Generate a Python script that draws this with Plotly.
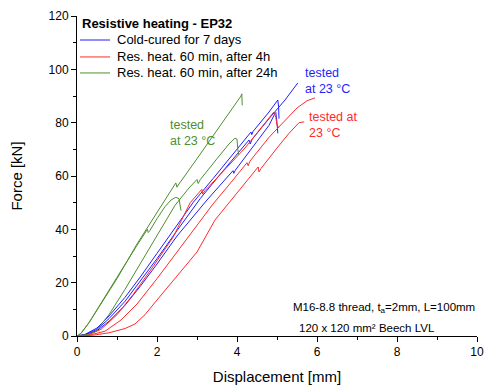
import plotly.graph_objects as go

# ---------------- data ----------------
# Cold-cured for 7 days (three tests)
blue_1_d = [0, 0.2, 0.5, 0.8, 1.2, 1.6, 2.0, 2.5, 3.08, 3.6, 4.3, 4.33, 4.38, 4.8, 5.2, 5.52]
blue_1_f = [0, 0.5, 2.5, 6.5, 13, 21, 29, 39.5, 51.5, 61, 73.5, 72, 73.8, 81.5, 88.5, 94.9]
blue_2_d = [0, 0.2, 0.5, 0.8, 1.2, 1.6, 2.0, 2.5, 2.9, 3.4, 3.9, 4.35, 4.37, 4.4, 4.8, 5.0, 5.02, 5.04, 5.05]
blue_2_f = [0, 0.6, 3, 7.5, 14.5, 22.5, 31, 41.5, 50, 59, 68, 76.5, 75.5, 76.7, 84, 88, 88.5, 86, 81.5]
blue_3_d = [0, 0.2, 0.5, 0.8, 1.2, 1.6, 2.0, 2.5, 3.25, 3.9, 3.92, 3.96, 4.5, 4.8, 4.95, 4.97, 5.0, 5.02]
blue_3_f = [0, 0.4, 2, 5.5, 11.5, 19, 27, 37.5, 51, 62, 61, 62.2, 73, 79, 83.5, 83.8, 80, 76]

# Res. heat. 60 min, after 4h (three tests)
red_1_d = [0, 0.3, 0.7, 1.1, 1.5, 2.0, 2.5, 3.0, 3.4, 3.9, 4.25, 4.28, 4.32, 4.8, 5.2, 5.5, 5.75, 5.95]
red_1_f = [0, 0.3, 1.8, 6, 12, 21.5, 31.5, 41.5, 49.5, 58.5, 65, 63.8, 65.5, 74.5, 81, 85.5, 88.2, 89.3]
red_2_d = [0, 0.4, 0.8, 1.2, 1.45, 1.7, 2.0, 2.5, 3.0, 3.45, 4.0, 4.53, 4.55, 4.6, 5.0, 5.3, 5.55, 5.68]
red_2_f = [0, 0.3, 1.2, 2.8, 4.5, 8, 13.5, 22.5, 31.5, 43.5, 53.5, 63.4, 61.5, 62.8, 70.5, 76, 80, 80.3]
red_3_d = [0, 0.3, 0.6, 1.0, 1.4, 1.9, 2.4, 2.83, 3.12, 3.14, 3.2, 3.7, 4.2, 4.6, 4.85, 4.92, 4.97, 5.0, 5.05]
red_3_f = [0, 0.5, 2.5, 8, 15.5, 26, 37, 50, 55, 53.2, 54.5, 62.5, 70.5, 78, 83, 84, 82, 79, 78]

# Res. heat. 60 min, after 24h (three tests)
green_1_d = [0, 0.1, 0.3, 0.6, 1.0, 1.5, 2.0, 2.15, 2.47, 2.5, 2.55, 3.0, 3.5, 4.0, 4.1, 4.12, 4.13, 4.13]
green_1_f = [0, 1, 5, 12, 21.5, 34.5, 46.5, 50, 57.4, 55.8, 57, 66.5, 77, 87.5, 90, 90.8, 88, 86.5]
green_2_d = [0, 0.1, 0.3, 0.6, 1.0, 1.5, 1.76, 1.78, 1.82, 2.0, 2.2, 2.35, 2.47, 2.55, 2.58, 2.6]
green_2_f = [0, 1, 5, 12.5, 22, 34, 40, 38.8, 39.5, 44, 48.5, 51, 52, 51.5, 49, 47]
green_3_d = [0, 0.25, 0.45, 0.8, 1.2, 1.6, 2.0, 2.45, 2.8, 3.0, 3.03, 3.08, 3.5, 3.8, 3.95, 4.0, 4.02, 4.04]
green_3_f = [0, 0.5, 1.5, 8, 17.5, 27.5, 38, 49, 55.5, 58.7, 57.2, 58.6, 66.5, 72, 74.2, 73.8, 70, 68]

series_names = ["Cold-cured for 7 days", "Res. heat. 60 min, after 4h", "Res. heat. 60 min, after 24h"]
legend_title = "Resistive heating - EP32"
x_title = "Displacement [mm]"
y_title = "Force [kN]"
note_lines = ["M16-8.8 thread, t<sub>a</sub>=2mm, L=100mm", "120 x 120 mm² Beech LVL"]
label_text = ["tested<br>at 23 °C", "tested at<br>23 °C", "tested<br>at 23 °C"]

BLUE = "#1f1fff"
RED = "#ff2a2a"
GREEN = "#4e8f2e"
FONT = "Liberation Sans, Arial, sans-serif"

fig = go.Figure()

groups = [
    (series_names[0], BLUE, [(blue_1_d, blue_1_f), (blue_2_d, blue_2_f), (blue_3_d, blue_3_f)]),
    (series_names[1], RED, [(red_1_d, red_1_f), (red_2_d, red_2_f), (red_3_d, red_3_f)]),
    (series_names[2], GREEN, [(green_1_d, green_1_f), (green_2_d, green_2_f), (green_3_d, green_3_f)]),
]
for name, col, curves in groups:
    for i, (d, f) in enumerate(curves):
        fig.add_trace(go.Scatter(
            x=d, y=f, mode="lines", name=name, legendgroup=name,
            showlegend=False, line=dict(color=col, width=1),
        ))

# ---- legend drawn compactly (paper coords of the plot area) ----
fig.add_annotation(xref="paper", yref="paper", x=0.0075, y=0.978,
                   text="<b>" + legend_title + "</b>", showarrow=False,
                   xanchor="left", yanchor="middle",
                   font=dict(size=13, family=FONT, color="black"))
leg_y = [0.925, 0.872, 0.822]
for (name, col, _), yy in zip(groups, leg_y):
    fig.add_shape(type="line", xref="paper", yref="paper",
                  x0=0.0075, x1=0.0825, y0=yy, y1=yy,
                  line=dict(color=col, width=1))
    fig.add_annotation(xref="paper", yref="paper", x=0.095, y=yy,
                       text=name, showarrow=False,
                       xanchor="left", yanchor="middle",
                       font=dict(size=13, family=FONT, color="black"))

# in-plot labels
fig.add_annotation(x=5.65, y=95.6, text=label_text[0], showarrow=False,
                   xanchor="left", yanchor="middle", align="left",
                   font=dict(color=BLUE, size=12.5, family=FONT))
fig.add_annotation(x=5.75, y=79, text=label_text[1], showarrow=False,
                   xanchor="left", yanchor="middle", align="left",
                   font=dict(color=RED, size=12.5, family=FONT))
fig.add_annotation(x=2.28, y=76, text=label_text[2], showarrow=False,
                   xanchor="left", yanchor="middle", align="left",
                   font=dict(color=GREEN, size=12.5, family=FONT))

fig.add_annotation(x=10, y=10.5, text=note_lines[0], showarrow=False,
                   xanchor="right", yanchor="middle", align="left",
                   font=dict(color="black", size=11.5, family=FONT))
fig.add_annotation(x=5.5, y=3, text=note_lines[1], showarrow=False,
                   xanchor="left", yanchor="middle", align="left",
                   font=dict(color="black", size=11.5, family=FONT))

axis_common = dict(
    showline=True, linecolor="black", linewidth=1, mirror=False,
    ticks="outside", ticklen=5, tickcolor="black", tickwidth=1,
    showgrid=False, zeroline=False, automargin=False,
    tickfont=dict(size=12, family=FONT, color="black"),
)
fig.update_xaxes(range=[0, 10], dtick=2, tick0=0,
                 minor=dict(ticks="outside", dtick=1, ticklen=3, tickcolor="black"),
                 title=dict(text=x_title, font=dict(size=15, family=FONT, color="black"), standoff=13),
                 **axis_common)
fig.update_yaxes(range=[0, 120], dtick=20, tick0=0,
                 minor=dict(ticks="outside", dtick=10, ticklen=3, tickcolor="black"),
                 title=dict(text=y_title, font=dict(size=15, family=FONT, color="black"), standoff=22),
                 **axis_common)

fig.update_layout(
    width=484, height=387,
    margin=dict(l=77, r=7, t=16, b=51),
    paper_bgcolor="white", plot_bgcolor="white",
    font=dict(family=FONT, color="black"),
    showlegend=False,
)

fig.write_html("out.html",
               config={"displayModeBar": False},
               post_script="document.body.style.margin='0';document.body.style.overflow='hidden';")
